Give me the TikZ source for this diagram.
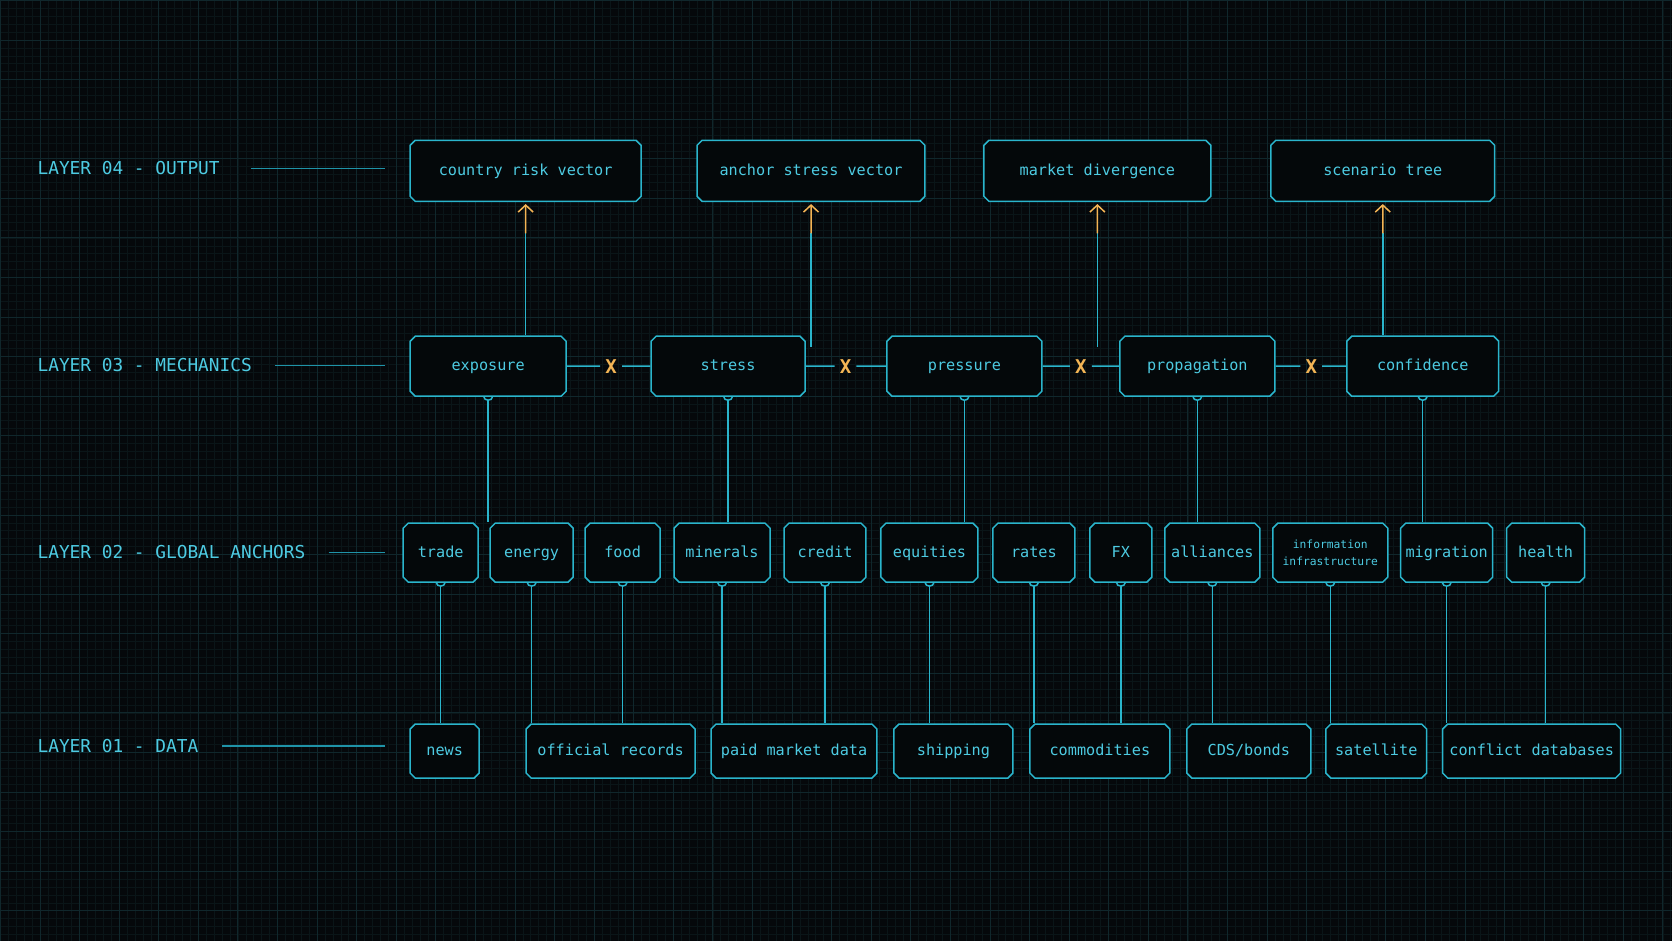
\documentclass[tikz,border=0pt]{standalone}
\usepackage{fontspec}
\setmonofont{DejaVu Sans Mono}
\usetikzlibrary{positioning}
\usetikzlibrary{shapes.misc,arrows.meta}

\definecolor{bgdark}{HTML}{05080B}
\definecolor{gridminor}{HTML}{0A1518}
\definecolor{gridmajor}{HTML}{10272C}
\definecolor{wire}{HTML}{2AB5CC}
\definecolor{guidewire}{HTML}{1F93A8}
\definecolor{ink}{HTML}{4DCBE2}
\definecolor{amber}{HTML}{F4B555}
\definecolor{boxfill}{HTML}{04080A}

\tikzset{
  frame/.style={chamfered rectangle, chamfered rectangle xsep=2.5pt,
    chamfered rectangle ysep=2.5pt, draw=wire, line width=1.5pt,
    fill=boxfill, text=ink, inner sep=0pt,
    font=\ttfamily\fontsize{15.2}{18}\selectfont},
  card/.style={frame, text height=12pt, text depth=3pt},
  layer/.style={text=ink, inner sep=0pt, anchor=west,
    text height=15pt, text depth=2pt,
    font=\ttfamily\fontsize{17.8}{20}\selectfont},
  cross/.style={text=amber, inner sep=5pt,
    font=\ttfamily\bfseries\fontsize{19}{20}\selectfont},
  link/.style={draw=wire, line width=1.5pt},
  guide/.style={draw=guidewire, line width=1.2pt},
  fork/.style={arrows={Arc Barb[reversed,length=4pt,width=10pt]-}},
  lift/.style={draw=amber, line width=1.5pt,
    -{Straight Barb[length=7pt,width=15pt]}, shorten >=2pt}
}

\begin{document}
\begin{tikzpicture}[x=1pt,y=-1pt]
    % background and grid
    \fill[bgdark] (0,0) rectangle (1672,941);
    \draw[gridminor, line width=0.6pt, step=7.92pt] (0,0) grid (1672,941);
    \draw[gridmajor, line width=0.8pt, step=39.6pt] (0,0) grid (1672,941);

    % layer names
    \foreach \i/\y/\gap/\txt in {4/168/31/LAYER 04 - OUTPUT,
        3/365/23/LAYER 03 - MECHANICS, 2/552/23/LAYER 02 - GLOBAL ANCHORS,
        1/746/24/LAYER 01 - DATA} {
        \node[layer] (l\i) at (37,\y) {\txt};
        \coordinate (g\i) at (385,\y);
        \draw[guide, shorten <=\gap pt] (l\i.east) -- (g\i);
    }

    % layer 04
    \foreach \nm/\cx/\w/\txt in {crv/525.5/231/country risk vector,
        asv/811/228/anchor stress vector, mdv/1097.5/227/market divergence,
        stree/1383/224/scenario tree}
        \node[card, minimum width=\w pt, minimum height=61pt] (\nm) at (\cx,170.5) {\txt};

    % layer 03
    \foreach \nm/\cx/\w in {exposure/488/156, stress/728/154, pressure/964.5/155,
        propagation/1197.5/155, confidence/1423/152}
        \node[card, minimum width=\w pt, minimum height=60pt] (\nm) at (\cx,366) {\nm};
    \foreach \i/\cx in {1/611, 2/845.5, 3/1081, 4/1311.5}
        \node[cross] (x\i) at (\cx,366) {X};
    \draw[link] (exposure) -- (x1) -- (stress) -- (x2) -- (pressure) -- (x3)
        -- (propagation) -- (x4) -- (confidence);

    % layer 02
    \foreach \nm/\cx/\w/\txt in {trade/440.5/75/trade, energy/531.5/83/energy,
        food/622.5/75/food, minerals/722/96/minerals, credit/825/82/credit,
        equities/929.5/97/equities, rates/1034/82/rates, fx/1121/62/FX,
        alliances/1212.5/95/alliances, migration/1447/92/migration,
        health/1546/78/health}
        \node[card, minimum width=\w pt, minimum height=59pt] (\nm) at (\cx,552.5) {\txt};
    \node[frame, minimum width=115pt, minimum height=59pt, align=center,
        font=\ttfamily\fontsize{11.3}{17}\selectfont] (info) at (1330.5,552.5)
        {information\\infrastructure};

    % layer 01
    \foreach \nm/\cx/\w/\txt in {news/444.5/69/news, offrec/610.5/169/official records,
        paid/794/166/paid market data, ship/953.5/119/shipping,
        comm/1100/140/commodities, cds/1249/124/{CDS/bonds},
        sat/1376.5/101/satellite, conflict/1532/178/conflict databases}
        \node[card, minimum width=\w pt, minimum height=54pt] (\nm) at (\cx,751) {\txt};

    % mechanics to output
    \coordinate (o1) at (525.5,233);
    \coordinate (o2) at (811,233);
    \coordinate (o3) at (1097.5,233);
    \coordinate (o4) at (1383,233);
    \coordinate (s2) at (811,347);
    \coordinate (s3) at (1097.5,347);
    \draw[link] (exposure.north -| o1) -- (o1);
    \draw[link] (s2) -- (o2);
    \draw[link] (s3) -- (o3);
    \draw[link] (confidence.north -| o4) -- (o4);
    \foreach \o/\t in {o1/crv, o2/asv, o3/mdv, o4/stree}
        \draw[lift] (\o) -- (\t);

    % anchors to mechanics
    \foreach \m/\a in {exposure/trade, stress/minerals, pressure/equities,
        propagation/alliances, confidence/migration}
        \draw[link, fork] (\m.south) -- (\m.south |- \a.north);

    % data to anchors
    \foreach \a/\d in {trade/news, energy/offrec, food/offrec, minerals/paid,
        credit/paid, equities/ship, rates/comm, fx/comm, alliances/cds,
        info/sat, migration/conflict, health/conflict}
        \draw[link, fork] (\a.south) -- (\a.south |- \d.north);
\end{tikzpicture}
\end{document}
